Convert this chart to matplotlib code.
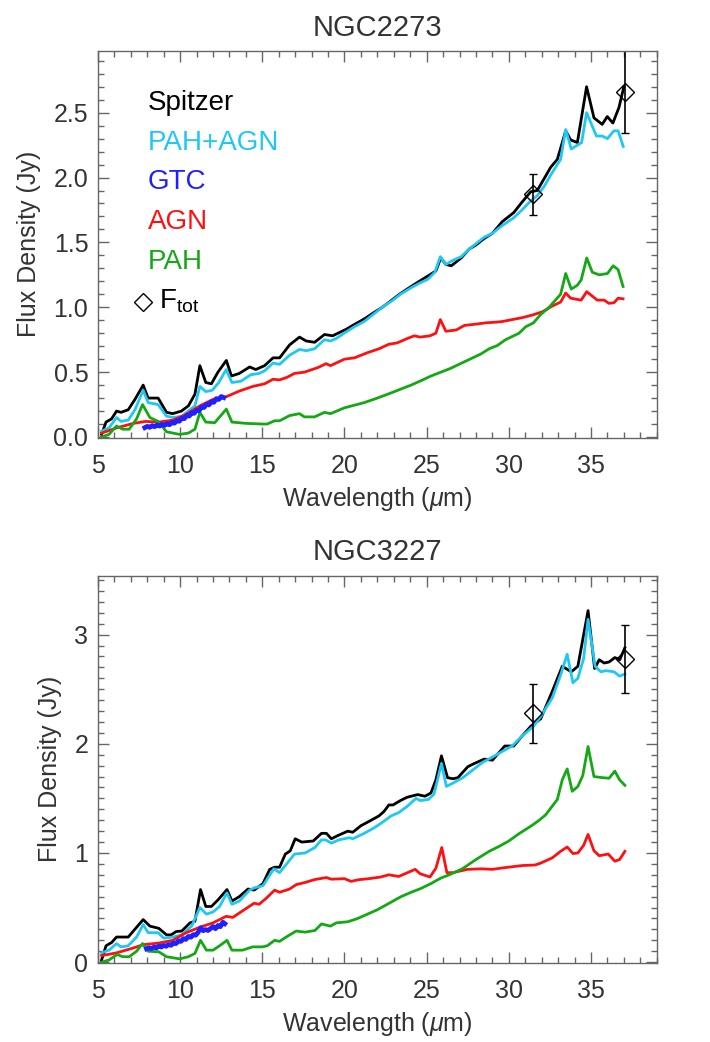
import numpy as np
import matplotlib
matplotlib.use("Agg")
import matplotlib.pyplot as plt
from matplotlib.ticker import MultipleLocator, FormatStrFormatter

plt.rcParams['font.family'] = ['Liberation Sans', 'DejaVu Sans']
plt.rcParams['mathtext.fontset'] = 'custom'
plt.rcParams['mathtext.rm'] = 'Liberation Sans'
plt.rcParams['mathtext.it'] = 'Liberation Sans:italic'

TXT = '#333333'
AX = '#666666'

# ---------------- NGC2273 ----------------
sp1_wl = [5.22, 5.49, 5.83, 6.13, 6.4, 6.84, 7.25, 7.75, 8.05, 8.66, 9.17, 9.55, 10.08, 10.5, 10.9,
          11.2, 11.56, 11.9, 12.3, 12.81, 13.12, 13.6, 14.23, 14.6, 15.14, 15.65, 16.05, 16.66, 17.26,
          17.67, 18.18, 18.78, 19.28, 19.6, 20.1, 20.5, 21.2, 21.8, 22.3, 22.83, 23.34, 24.05, 24.55,
          25.06, 25.56, 25.86, 26.17, 26.5, 27.1, 27.6, 28.0, 28.5, 29.0, 29.6, 30.3, 30.8, 31.33,
          31.73, 32.14, 32.55, 32.95, 33.46, 33.76, 34.17, 34.73, 35.18, 35.68, 35.99, 36.33, 36.7, 37.0]
sp1_fx = [0.02, 0.115, 0.14, 0.20, 0.19, 0.21, 0.29, 0.40, 0.30, 0.30, 0.19, 0.18, 0.20, 0.24, 0.33,
          0.55, 0.42, 0.41, 0.50, 0.59, 0.47, 0.49, 0.54, 0.52, 0.55, 0.61, 0.61, 0.71, 0.77,
          0.74, 0.73, 0.79, 0.78, 0.80, 0.83, 0.86, 0.91, 0.96, 1.00, 1.05, 1.10, 1.16, 1.20,
          1.24, 1.28, 1.38, 1.33, 1.32, 1.38, 1.45, 1.48, 1.53, 1.57, 1.66, 1.73, 1.81, 1.89,
          1.90, 1.99, 2.08, 2.14, 2.36, 2.29, 2.27, 2.70, 2.46, 2.41, 2.47, 2.42, 2.54, 2.70]

fit1_wl = [5.22, 5.67, 6.13, 6.4, 6.84, 7.25, 7.75, 8.05, 8.66, 9.17, 9.6, 10.1, 10.5, 10.9, 11.2,
           11.56, 11.95, 12.35, 12.8, 13.15, 13.7, 14.3, 14.8, 15.14, 15.65, 16.05, 16.66, 17.26,
           17.67, 18.18, 18.78, 19.15, 19.5, 20.1, 20.6, 21.2, 21.8, 22.4, 22.9, 23.4, 24.05, 24.55,
           25.06, 25.5, 25.83, 26.17, 26.57, 27.1, 27.6, 28.5, 29.0, 29.6, 30.3, 30.8, 31.33, 31.73,
           32.14, 32.55, 33.15, 33.46, 33.8, 34.43, 34.73, 35.33, 35.68, 36.0, 36.39, 36.65, 36.96]
fit1_fx = [0.045, 0.07, 0.15, 0.12, 0.13, 0.21, 0.36, 0.265, 0.25, 0.16, 0.15, 0.16, 0.20, 0.24, 0.39,
           0.35, 0.36, 0.42, 0.52, 0.42, 0.43, 0.48, 0.49, 0.51, 0.57, 0.56, 0.63, 0.675,
           0.665, 0.68, 0.75, 0.74, 0.76, 0.81, 0.85, 0.89, 0.95, 1.01, 1.05, 1.10, 1.15, 1.185,
           1.215, 1.27, 1.39, 1.33, 1.36, 1.39, 1.45, 1.54, 1.57, 1.63, 1.69, 1.75, 1.82, 1.86,
           1.93, 2.02, 2.14, 2.37, 2.22, 2.27, 2.50, 2.32, 2.32, 2.30, 2.36, 2.36, 2.24]

agn1_wl = [5.22, 6.13, 7.15, 7.9, 8.7, 9.55, 10.3, 11.2, 12.0, 12.8, 13.62, 14.43, 15.14, 15.65,
           16.05, 16.5, 16.96, 17.57, 18.38, 18.88, 19.15, 20.0, 20.6, 21.4, 22.1, 22.7, 23.2, 23.84,
           24.25, 24.6, 25.2, 25.56, 25.83, 26.17, 26.8, 27.3, 28.0, 28.6, 29.2, 29.6, 30.0, 30.82,
           31.43, 32.04, 32.65, 33.15, 33.46, 33.76, 34.4, 34.74, 35.38, 35.8, 36.09, 36.4, 36.65, 36.95]
agn1_fx = [0.03, 0.07, 0.105, 0.12, 0.115, 0.13, 0.17, 0.24, 0.29, 0.31, 0.355, 0.39, 0.41, 0.445,
           0.44, 0.46, 0.49, 0.50, 0.535, 0.565, 0.55, 0.60, 0.61, 0.65, 0.68, 0.715, 0.725, 0.76,
           0.78, 0.77, 0.78, 0.80, 0.905, 0.815, 0.825, 0.86, 0.87, 0.88, 0.885, 0.89, 0.90, 0.92,
           0.94, 0.965, 1.01, 1.04, 1.11, 1.07, 1.055, 1.12, 1.055, 1.055, 1.03, 1.035, 1.07, 1.065]

pah1_wl = [5.22, 5.67, 6.13, 6.5, 6.9, 7.35, 7.71, 8.16, 8.66, 9.17, 9.97, 10.5, 10.9, 11.2, 11.56,
           12.1, 12.81, 13.15, 14.0, 14.98, 15.3, 15.75, 16.05, 16.66, 17.26, 17.56, 18.18, 18.78,
           19.15, 20.0, 20.6, 21.2, 22.0, 22.84, 23.44, 24.05, 24.76, 25.26, 25.87, 26.47, 26.8,
           27.8, 28.3, 28.8, 29.3, 29.8, 30.62, 31.03, 31.5, 31.94, 32.45, 33.15, 33.46, 33.8, 34.17,
           34.4, 34.74, 35.08, 35.5, 36.0, 36.35, 36.65, 36.95]
pah1_fx = [0.0, 0.02, 0.085, 0.06, 0.06, 0.14, 0.25, 0.15, 0.12, 0.04, 0.02, 0.03, 0.06, 0.19, 0.115,
           0.11, 0.215, 0.115, 0.105, 0.10, 0.10, 0.125, 0.125, 0.165, 0.18, 0.155, 0.155, 0.19,
           0.18, 0.225, 0.245, 0.265, 0.30, 0.34, 0.37, 0.40, 0.44, 0.47, 0.50, 0.53, 0.55,
           0.61, 0.64, 0.68, 0.705, 0.75, 0.80, 0.85, 0.88, 0.945, 1.00, 1.10, 1.26, 1.14, 1.17,
           1.21, 1.38, 1.27, 1.25, 1.26, 1.32, 1.29, 1.16]

gtc1_wl = [7.85, 8.0, 8.15, 8.3, 8.45, 8.6, 8.75, 8.9, 9.05, 9.2, 9.35, 9.5, 9.65, 9.8, 9.95, 10.1,
           10.25, 10.4, 10.55, 10.7, 10.85, 11.0, 11.15, 11.3, 11.45, 11.6, 11.75, 11.9, 12.05, 12.2,
           12.35, 12.5, 12.65]
gtc1_fx = [0.072, 0.082, 0.074, 0.088, 0.079, 0.093, 0.084, 0.098, 0.089, 0.103, 0.094, 0.112, 0.106,
           0.126, 0.121, 0.146, 0.141, 0.166, 0.161, 0.187, 0.182, 0.207, 0.202, 0.232, 0.227, 0.252,
           0.247, 0.272, 0.267, 0.296, 0.289, 0.312, 0.304]

phot1_wl = [31.47, 37.06]
phot1_fx = [1.87, 2.66]
phot1_err = [0.16, 0.32]

# ---------------- NGC3227 ----------------
sp2_wl = [5.22, 5.49, 5.83, 6.13, 6.84, 7.75, 8.16, 8.7, 9.17, 9.45, 9.75, 10.1, 10.6, 10.9, 11.24,
          11.56, 11.9, 12.3, 12.85, 13.15, 13.6, 14.13, 14.5, 15.04, 15.45, 15.75, 16.05, 16.4, 16.7,
          17.0, 17.4, 18.1, 18.6, 18.9, 19.2, 19.6, 20.2, 20.5, 21.0, 21.5, 22.1, 22.4, 22.7, 22.95,
          23.4, 23.8, 24.45, 24.9, 25.26, 25.56, 25.9, 26.27, 26.6, 26.9, 27.5, 27.9, 28.5, 29.0,
          29.75, 30.3, 30.8, 31.33, 31.94, 32.64, 33.25, 33.8, 34.2, 34.82, 35.22, 35.5, 35.8, 36.1,
          36.45, 36.75, 37.06]
sp2_fx = [0.02, 0.15, 0.18, 0.23, 0.23, 0.39, 0.33, 0.31, 0.25, 0.25, 0.28, 0.285, 0.36, 0.375, 0.665,
          0.51, 0.51, 0.57, 0.665, 0.56, 0.60, 0.67, 0.66, 0.72, 0.85, 0.87, 0.87, 0.99, 1.02,
          1.13, 1.10, 1.11, 1.18, 1.18, 1.13, 1.16, 1.20, 1.19, 1.25, 1.29, 1.34, 1.38, 1.44, 1.44,
          1.48, 1.51, 1.535, 1.52, 1.55, 1.67, 1.89, 1.69, 1.68, 1.69, 1.79, 1.82, 1.86, 1.85,
          1.98, 1.98, 2.07, 2.16, 2.23, 2.48, 2.71, 2.66, 2.71, 3.22, 2.69, 2.77, 2.74, 2.75,
          2.79, 2.77, 2.88]

fit2_wl = [5.22, 5.67, 6.13, 6.4, 6.84, 7.35, 7.75, 8.05, 8.66, 9.0, 9.55, 10.08, 10.7, 11.2, 11.6,
           12.0, 12.4, 12.85, 13.15, 13.6, 14.23, 14.5, 15.04, 15.7, 16.05, 16.96, 17.6, 18.2, 18.6,
           18.85, 19.2, 19.65, 20.3, 20.5, 21.2, 21.8, 22.3, 22.84, 23.3, 23.84, 24.35, 24.6, 25.1,
           25.45, 25.9, 26.2, 26.6, 27.2, 27.8, 28.4, 28.9, 29.6, 30.2, 30.8, 31.5, 31.94, 32.64,
           33.15, 33.55, 33.9, 34.2, 34.55, 34.82, 35.25, 35.6, 35.9, 36.4, 36.74, 37.06]
fit2_fx = [0.085, 0.11, 0.17, 0.14, 0.15, 0.23, 0.345, 0.27, 0.27, 0.22, 0.23, 0.25, 0.33, 0.50, 0.44,
           0.46, 0.51, 0.635, 0.53, 0.56, 0.66, 0.68, 0.70, 0.855, 0.82, 0.99, 1.00, 1.05, 1.12,
           1.12, 1.09, 1.12, 1.14, 1.13, 1.18, 1.23, 1.28, 1.34, 1.37, 1.43, 1.50, 1.48, 1.49,
           1.54, 1.82, 1.61, 1.64, 1.69, 1.76, 1.83, 1.87, 1.93, 1.98, 2.07, 2.16, 2.25, 2.42,
           2.63, 2.82, 2.56, 2.60, 2.78, 3.14, 2.71, 2.66, 2.67, 2.66, 2.62, 2.64]

agn2_wl = [5.22, 6.13, 7.15, 7.75, 8.7, 9.55, 10.37, 11.2, 12.0, 12.8, 13.2, 13.7, 14.5, 14.8, 15.2,
           15.75, 16.05, 16.66, 17.06, 17.6, 18.2, 18.9, 19.2, 20.0, 20.4, 20.85, 21.5, 22.2, 22.7,
           23.3, 23.84, 24.3, 24.6, 25.2, 25.56, 25.92, 26.23, 26.6, 27.48, 28.35, 29.0, 29.7, 30.82,
           31.6, 31.9, 32.64, 33.15, 33.55, 33.9, 34.2, 34.55, 34.82, 35.18, 35.5, 36.05, 36.45,
           36.74, 37.06]
agn2_fx = [0.06, 0.085, 0.13, 0.16, 0.175, 0.20, 0.27, 0.32, 0.36, 0.42, 0.41, 0.46, 0.54, 0.53, 0.58,
           0.66, 0.64, 0.67, 0.71, 0.73, 0.757, 0.775, 0.76, 0.765, 0.74, 0.755, 0.765, 0.78, 0.80,
           0.785, 0.82, 0.85, 0.81, 0.78, 0.86, 1.05, 0.82, 0.82, 0.85, 0.855, 0.85, 0.865, 0.885,
           0.89, 0.905, 0.955, 1.015, 1.055, 0.995, 1.0, 1.07, 1.17, 1.02, 0.975, 0.99, 0.925,
           0.94, 1.015]

pah2_wl = [5.22, 5.67, 6.17, 6.5, 6.9, 7.35, 7.71, 8.05, 8.7, 9.17, 9.97, 10.5, 10.9, 11.24, 11.6,
           12.0, 12.4, 12.85, 13.15, 13.8, 14.4, 15.0, 15.3, 15.75, 16.05, 16.45, 17.06, 17.6, 18.2,
           18.6, 19.15, 19.5, 20.2, 20.8, 21.4, 22.0, 22.6, 23.44, 24.05, 24.65, 25.26, 25.86, 26.37,
           27.17, 28.0, 28.8, 29.4, 30.0, 30.6, 31.33, 31.85, 32.24, 32.95, 33.25, 33.55, 33.86, 34.2,
           34.5, 34.82, 35.18, 35.7, 36.1, 36.45, 36.74, 37.06]
pah2_fx = [0.0, 0.02, 0.07, 0.05, 0.05, 0.10, 0.17, 0.10, 0.095, 0.05, 0.03, 0.05, 0.08, 0.20, 0.11,
           0.11, 0.15, 0.20, 0.11, 0.11, 0.14, 0.14, 0.15, 0.20, 0.19, 0.23, 0.285, 0.275, 0.29,
           0.35, 0.33, 0.36, 0.37, 0.40, 0.44, 0.48, 0.53, 0.60, 0.64, 0.675, 0.72, 0.77, 0.80,
           0.855, 0.94, 1.015, 1.06, 1.11, 1.175, 1.245, 1.30, 1.35, 1.49, 1.67, 1.77, 1.565, 1.61,
           1.71, 1.975, 1.70, 1.69, 1.685, 1.75, 1.67, 1.62]

gtc2_wl = [7.95, 8.1, 8.25, 8.4, 8.55, 8.7, 8.85, 9.0, 9.15, 9.3, 9.45, 9.6, 9.75, 9.9, 10.05, 10.2,
           10.35, 10.5, 10.65, 10.8, 10.95, 11.1, 11.25, 11.4, 11.55, 11.7, 11.85, 12.0, 12.15, 12.3,
           12.45, 12.6, 12.72]
gtc2_fx = [0.122, 0.132, 0.124, 0.138, 0.129, 0.147, 0.138, 0.153, 0.145, 0.162, 0.154, 0.176, 0.170,
           0.196, 0.190, 0.216, 0.208, 0.236, 0.228, 0.252, 0.247, 0.275, 0.315, 0.288, 0.298, 0.290,
           0.308, 0.326, 0.306, 0.336, 0.325, 0.366, 0.352]

phot2_wl = [31.47, 37.06]
phot2_fx = [2.28, 2.78]
phot2_err = [0.27, 0.31]

C_SP = 'black'
C_FIT = '#1ec8f5'
C_GTC = '#2020ff'
C_AGN = '#ff1010'
C_PAH = '#14a814'
LW = 2.0


def style_axes(ax, ymax, ymajor, yfmt, title):
    ax.set_xlim(5, 39)
    ax.set_ylim(-0.005, ymax)
    ax.xaxis.set_major_locator(MultipleLocator(5))
    ax.xaxis.set_minor_locator(MultipleLocator(1))
    ax.yaxis.set_major_locator(MultipleLocator(ymajor))
    ax.yaxis.set_minor_locator(MultipleLocator(0.1))
    ax.yaxis.set_major_formatter(FormatStrFormatter(yfmt))
    ax.tick_params(which='both', direction='in', top=True, right=True, colors=AX,
                   labelcolor=TXT, labelsize=18)
    ax.tick_params(which='major', length=8, width=1.0)
    ax.tick_params(which='minor', length=4, width=1.0)
    ax.tick_params(axis='x', pad=12)
    ax.tick_params(axis='y', pad=7)
    for s in ax.spines.values():
        s.set_color(AX)
        s.set_linewidth(1.0)
    ax.set_xlabel(r'Wavelength ($\mu$m)', fontsize=18, color=TXT, labelpad=5)
    ax.set_ylabel('Flux Density (Jy)', fontsize=18, color=TXT, labelpad=9)
    ax.set_title(title, fontsize=21, color=TXT, pad=11)


def draw_panel(ax, sp, fit, agn, pah, gtc, phot):
    ax.plot(sp[0], sp[1], color=C_SP, lw=LW)
    ax.plot(fit[0], fit[1], color=C_FIT, lw=LW)
    ax.plot(agn[0], agn[1], color=C_AGN, lw=LW)
    ax.plot(pah[0], pah[1], color=C_PAH, lw=LW)
    ax.plot(gtc[0], gtc[1], color=C_GTC, lw=3.4)
    ax.errorbar(phot[0], phot[1], yerr=phot[2], fmt='D', ms=9, mfc='none', mec='black',
                mew=1.0, ecolor='black', elinewidth=1.2, capsize=3, capthick=1.2)


fig = plt.figure(figsize=(7.10, 10.42), dpi=100)
ax1 = fig.add_axes([0.138, 0.580, 0.787, 0.371])
ax2 = fig.add_axes([0.138, 0.0761, 0.787, 0.3714])

draw_panel(ax1, (sp1_wl, sp1_fx), (fit1_wl, fit1_fx), (agn1_wl, agn1_fx), (pah1_wl, pah1_fx),
           (gtc1_wl, gtc1_fx), (phot1_wl, phot1_fx, phot1_err))
style_axes(ax1, 2.975, 0.5, '%.1f', 'NGC2273')

draw_panel(ax2, (sp2_wl, sp2_fx), (fit2_wl, fit2_fx), (agn2_wl, agn2_fx), (pah2_wl, pah2_fx),
           (gtc2_wl, gtc2_fx), (phot2_wl, phot2_fx, phot2_err))
style_axes(ax2, 3.54, 1, '%d', 'NGC3227')

# legend as coloured words (IDL style)
labels = ['Spitzer', 'PAH+AGN', 'GTC', 'AGN', 'PAH']
colors = [C_SP, C_FIT, C_GTC, C_AGN, C_PAH]
for i, (lab, col) in enumerate(zip(labels, colors)):
    ax1.text(0.089, 0.847 - 0.1025 * i, lab, color=col, fontsize=20,
             transform=ax1.transAxes, va='baseline', ha='left')
ax1.plot([0.080], [0.352], marker='D', ms=9, mfc='none', mec='black', mew=1.0,
         transform=ax1.transAxes, clip_on=False)
ax1.text(0.109, 0.335, r'F$_{\rm tot}$', color=C_SP, fontsize=20,
         transform=ax1.transAxes, va='baseline', ha='left')

fig.savefig('out.png', dpi=100)
